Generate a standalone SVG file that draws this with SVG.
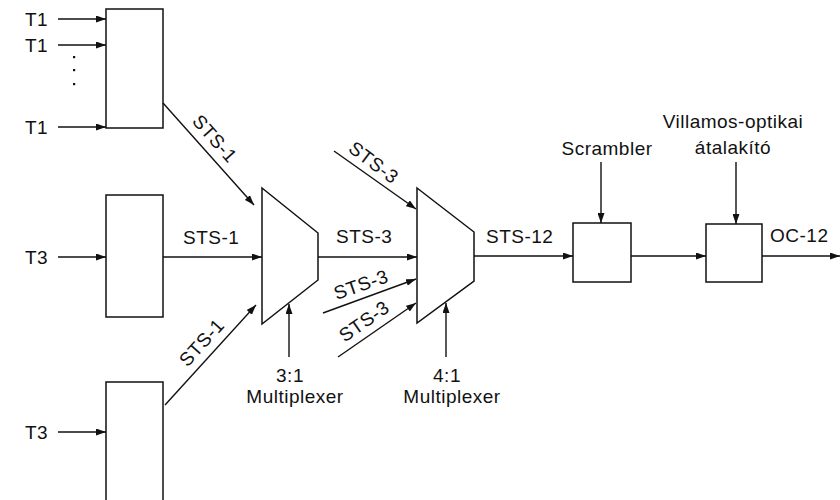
<svg xmlns="http://www.w3.org/2000/svg" width="840" height="500" viewBox="0 0 840 500">
<style>
.s{fill:#fff;stroke:#111;stroke-width:1.5}
.c{fill:none;stroke:#111;stroke-width:1.4;marker-end:url(#a)}
text{font-family:"Liberation Sans",Arial,sans-serif;font-size:19px;fill:#111;letter-spacing:0.5px}
.m{text-anchor:middle}
</style>
<defs>
<marker id="a" markerUnits="userSpaceOnUse" markerWidth="10" markerHeight="7" refX="10" refY="3.5" orient="auto">
<path d="M0,0 L10,3.5 L0,7 z" fill="#111"/>
</marker>
</defs>
<rect width="840" height="500" fill="#fff"/>
<g id="box1"><rect class="s" x="106" y="9" width="57" height="119"/></g>
<g id="box2"><rect class="s" x="106" y="195" width="57" height="122"/></g>
<g id="box3"><rect class="s" x="106" y="382" width="57" height="130"/></g>
<g id="mux1"><path class="s" d="M262,188 L318,233 L318,280 L262,324 Z"/>
<text class="m" x="290" y="382">3:1</text><text class="m" x="295" y="403">Multiplexer</text></g>
<g id="mux2"><path class="s" d="M417,188 L474,232 L474,281 L417,323 Z"/>
<text class="m" x="447" y="382">4:1</text><text class="m" x="452" y="403">Multiplexer</text></g>
<g id="scrambler"><rect class="s" x="573" y="223" width="58" height="59"/>
<text class="m" x="607" y="155">Scrambler</text></g>
<g id="eo"><rect class="s" x="706" y="224" width="56" height="58"/>
<text class="m" x="733" y="128">Villamos-optikai</text><text class="m" x="733" y="154">átalakító</text></g>
<g id="connectors">
<path class="c" d="M58,19 H106"/>
<path class="c" d="M58,45 H106"/>
<path class="c" d="M58,127 H106"/>
<path class="c" d="M58,257 H106"/>
<path class="c" d="M58,432 H106"/>
<path class="c" d="M163,103 L254,205"/>
<path class="c" d="M163,257 H262"/>
<path class="c" d="M165,405 L256,305"/>
<path class="c" d="M318,257 H417"/>
<path class="c" d="M334,151 L416,209"/>
<path class="c" d="M323,313 L416,279"/>
<path class="c" d="M338,357 L416,303"/>
<path class="c" d="M289,357 V304"/>
<path class="c" d="M446,357 V303"/>
<path class="c" d="M474,256 H573"/>
<path class="c" d="M601,162 V223"/>
<path class="c" d="M631,256 H706"/>
<path class="c" d="M736,162 V224"/>
<path class="c" d="M762,256 H840"/>
</g>
<g id="labels">
<text x="25" y="26">T1</text>
<text x="25" y="52">T1</text>
<text x="25" y="134">T1</text>
<text x="25" y="264">T3</text>
<text x="25" y="439">T3</text>
<rect x="73" y="56" width="2.2" height="2.2" fill="#111"/>
<rect x="73" y="69" width="2.2" height="2.2" fill="#111"/>
<rect x="73" y="83" width="2.2" height="2.2" fill="#111"/>
<text class="m" transform="translate(210,143) rotate(48.6)">STS-1</text>
<text x="183" y="244">STS-1</text>
<text class="m" transform="translate(206.4,346.8) rotate(-47.7)">STS-1</text>
<text x="336" y="243">STS-3</text>
<text class="m" transform="translate(369.8,167.8) rotate(37)">STS-3</text>
<text class="m" transform="translate(363.1,290.9) rotate(-19)">STS-3</text>
<text class="m" transform="translate(367.8,326.6) rotate(-34.7)">STS-3</text>
<text x="486" y="243">STS-12</text>
<text x="770" y="242">OC-12</text>
</g>
</svg>
